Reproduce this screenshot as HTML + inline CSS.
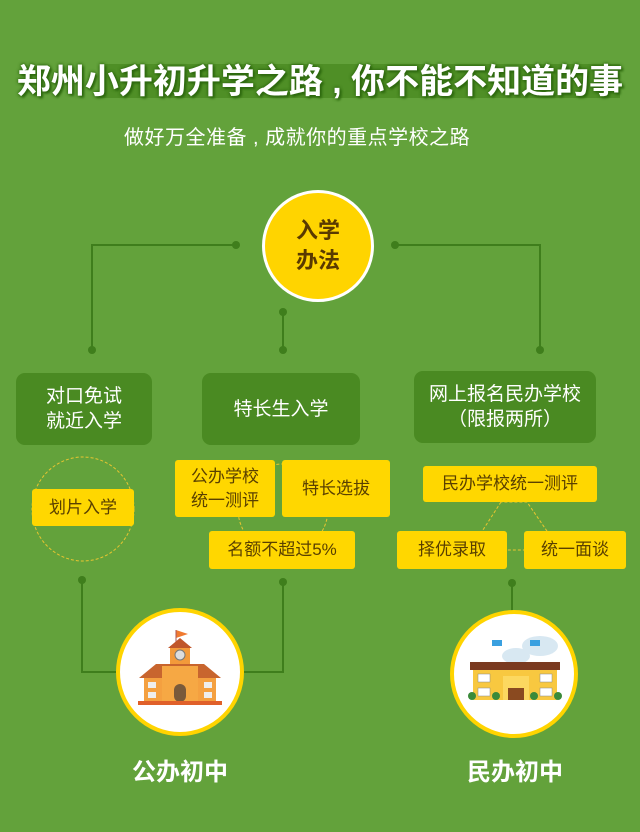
<!DOCTYPE html>
<html><head><meta charset="utf-8"><style>
body{margin:0;width:640px;height:832px;overflow:hidden;background:#63a23b;font-family:"Liberation Sans","Noto Sans CJK SC",sans-serif;position:relative}
.a{position:absolute}
.t{left:0;width:640px;top:54px;text-align:center;font-size:34px;font-weight:bold;color:#fff;text-shadow:0 0 3px #2f6a10,0 0 3px #2f6a10,2px 2px 2px #2f6a10;letter-spacing:0px;white-space:nowrap}
.s{left:124px;width:380px;top:121px;text-align:left;font-size:20px;color:#fff;white-space:nowrap;letter-spacing:0.5px}
.g{background:#4a8a22;border-radius:9px;color:#fff;font-size:19px;display:flex;align-items:center;justify-content:center;text-align:center;line-height:25px}
.y{background:#ffd700;border-radius:3px;color:#5a4000;font-size:17px;display:flex;align-items:center;justify-content:center;text-align:center;line-height:24px}
.c{border-radius:50%;background:#fff;border:4px solid #ffd400;box-sizing:border-box}
.l{font-size:24px;font-weight:bold;color:#fff;text-align:center;width:160px}
</style></head><body>
<div class="a" style="left:100px;top:64px;width:520px;height:34px;background:#4f8f26"></div>
<svg class="a" style="left:0;top:0" width="640" height="832">
<g stroke="#3f7e1c" stroke-width="2" fill="none">
<polyline points="236,245 92,245 92,350"/>
<polyline points="395,245 540,245 540,350"/>
<line x1="283" y1="312" x2="283" y2="350"/>
<polyline points="82,580 82,672 120,672"/>
<polyline points="283,582 283,672 240,672"/>
<line x1="512" y1="583" x2="512" y2="612"/>
</g>
<g fill="#3f7e1c">
<circle cx="236" cy="245" r="4"/><circle cx="395" cy="245" r="4"/>
<circle cx="92" cy="350" r="4"/><circle cx="540" cy="350" r="4"/>
<circle cx="283" cy="312" r="4"/><circle cx="283" cy="350" r="4"/>
<circle cx="82" cy="580" r="4"/><circle cx="283" cy="582" r="4"/><circle cx="512" cy="583" r="4"/>
</g>
<g stroke="#e8c530" stroke-width="1" stroke-dasharray="3,2" fill="none">
<ellipse cx="83" cy="509" rx="51" ry="52"/>
<circle cx="283" cy="509" r="45"/>
<polygon points="501,502 470,550 560,550 527,502" />
</g>
</svg>
<div class="a t">郑州小升初升学之路&nbsp;,&nbsp;你不能不知道的事</div>
<div class="a s">做好万全准备&nbsp;,&nbsp;成就你的重点学校之路</div>
<div class="a c" style="left:262px;top:190px;width:112px;height:112px;background:#ffd400;border-color:#fff;border-width:3px;display:flex;align-items:center;justify-content:center;text-align:center;color:#5a3a00;font-weight:bold;font-size:22px;line-height:30px">入学<br>办法</div>
<div class="a g" style="left:16px;top:373px;width:136px;height:72px">对口免试<br>就近入学</div>
<div class="a g" style="left:202px;top:373px;width:158px;height:72px">特长生入学</div>
<div class="a g" style="left:414px;top:371px;width:182px;height:72px">网上报名民办学校<br>（限报两所）</div>
<div class="a y" style="left:32px;top:489px;width:102px;height:37px">划片入学</div>
<div class="a y" style="left:175px;top:460px;width:100px;height:57px">公办学校<br>统一测评</div>
<div class="a y" style="left:282px;top:460px;width:108px;height:57px">特长选拔</div>
<div class="a y" style="left:209px;top:531px;width:146px;height:38px">名额不超过5%</div>
<div class="a y" style="left:423px;top:466px;width:174px;height:36px">民办学校统一测评</div>
<div class="a y" style="left:397px;top:531px;width:110px;height:38px">择优录取</div>
<div class="a y" style="left:524px;top:531px;width:102px;height:38px">统一面谈</div>
<div class="a c" style="left:116px;top:608px;width:128px;height:128px"></div>
<svg class="a" style="left:136px;top:628px" width="90" height="80">
<polygon points="40,2 52,6 40,10" fill="#f07a30"/><line x1="40" y1="2" x2="40" y2="20" stroke="#a55" />
<rect x="34" y="18" width="20" height="30" fill="#f39a3a"/><polygon points="32,20 44,10 56,20" fill="#c0562a"/>
<circle cx="44" cy="27" r="5" fill="#ddd" stroke="#777"/>
<polygon points="3,50 20,36 68,36 85,50" fill="#c8652e"/>
<rect x="8" y="50" width="72" height="24" fill="#f4a040"/><rect x="26" y="38" width="36" height="36" fill="#f6a844"/>
<rect x="38" y="56" width="12" height="18" rx="6" fill="#7a5a3a"/>
<rect x="2" y="73" width="84" height="4" fill="#e0602a"/>
<g fill="#eee"><rect x="12" y="54" width="8" height="6"/><rect x="12" y="64" width="8" height="6"/><rect x="68" y="54" width="8" height="6"/><rect x="68" y="64" width="8" height="6"/></g>
</svg>
<div class="a c" style="left:450px;top:610px;width:128px;height:128px"></div>
<svg class="a" style="left:468px;top:632px" width="96" height="80">
<ellipse cx="72" cy="14" rx="18" ry="10" fill="#d8e8f2"/><ellipse cx="48" cy="24" rx="14" ry="8" fill="#d8e8f2"/>
<rect x="2" y="30" width="90" height="8" fill="#7a3a20"/>
<rect x="5" y="38" width="84" height="30" fill="#f8c840"/>
<rect x="35" y="44" width="26" height="24" fill="#fcd860"/><rect x="40" y="56" width="16" height="12" fill="#8a4a20"/>
<g fill="#fff" stroke="#888" stroke-width=".5"><rect x="10" y="42" width="12" height="8"/><rect x="72" y="42" width="12" height="8"/><rect x="10" y="56" width="12" height="8"/><rect x="72" y="56" width="12" height="8"/></g>
<g fill="#3a8a3a"><circle cx="4" cy="64" r="4"/><circle cx="28" cy="64" r="4"/><circle cx="66" cy="64" r="4"/><circle cx="90" cy="64" r="4"/></g>
<rect x="24" y="8" width="10" height="6" fill="#3aa0e0"/><rect x="62" y="8" width="10" height="6" fill="#3aa0e0"/>
</svg>
<div class="a l" style="left:100px;top:752px">公办初中</div>
<div class="a l" style="left:435px;top:752px">民办初中</div>
</body></html>
